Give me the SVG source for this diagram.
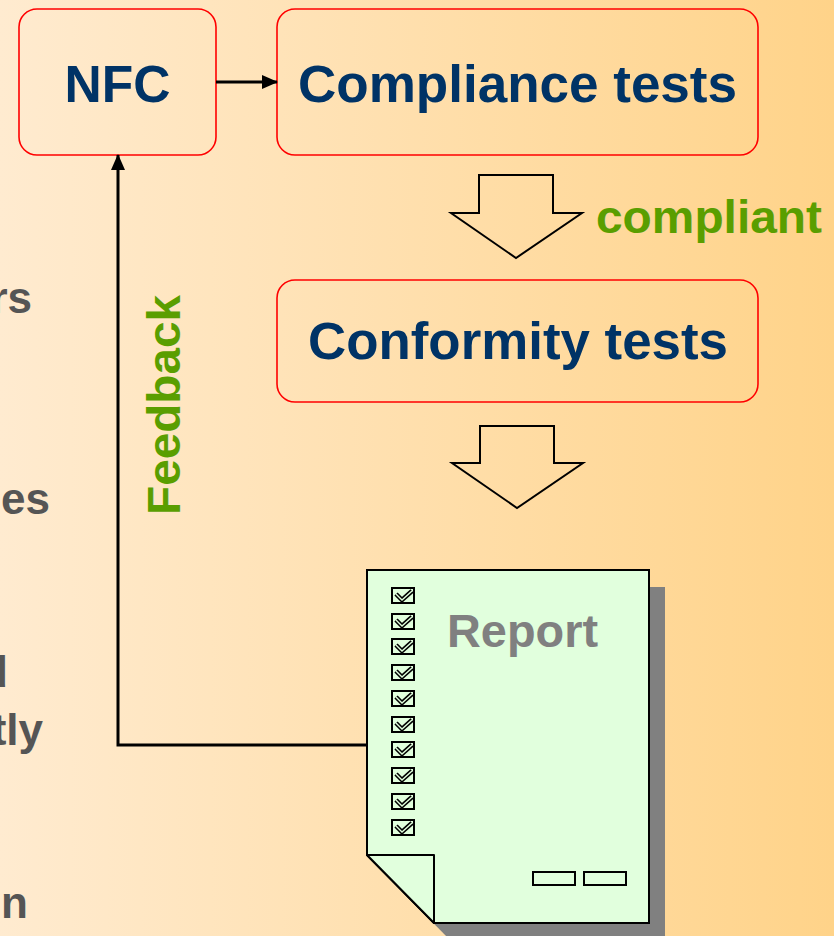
<svg xmlns="http://www.w3.org/2000/svg" width="834" height="936" viewBox="0 0 834 936">
<defs>
<linearGradient id="bg" x1="0" y1="0" x2="1" y2="0">
<stop offset="0" stop-color="#FFEBD0"/>
<stop offset="1" stop-color="#FFD389"/>
</linearGradient>
<marker id="ah" markerWidth="16" markerHeight="14" refX="15" refY="7" orient="auto" markerUnits="userSpaceOnUse" viewBox="0 0 16 14">
<path d="M0,0 L16,7 L0,14 z" fill="#000"/>
</marker>
<g id="chk">
<rect x="0" y="0" width="22" height="15" fill="none" stroke="#000" stroke-width="2"/>
<path d="M4,6 L10,12 L20,3" fill="none" stroke="#000" stroke-width="4.5" stroke-linejoin="miter"/>
<path d="M4,6 L10,12 L20,3" fill="none" stroke="#E1FFDD" stroke-width="1.4"/>
</g>
</defs>
<style>
.box{fill:none;stroke:#FF0000;stroke-width:1.6}
.nav{font-family:"Liberation Sans",Arial,sans-serif;font-weight:bold;fill:#003366;font-size:51px}
.grn{font-family:"Liberation Sans",Arial,sans-serif;font-weight:bold;fill:#5A9E00;font-size:46px}
.gry{font-family:"Liberation Sans",Arial,sans-serif;font-weight:bold;fill:#555555;font-size:44px}
.blk{fill:none;stroke:#000;stroke-width:2}
</style>
<rect x="0" y="0" width="834" height="936" fill="url(#bg)"/>

<g id="background-text">
<text class="gry" x="32" y="313" text-anchor="end">rs</text>
<text class="gry" x="50" y="514" text-anchor="end">es</text>
<text class="gry" x="8" y="687" text-anchor="end">d</text>
<text class="gry" x="43" y="745" text-anchor="end">tly</text>
<text class="gry" x="28" y="918" text-anchor="end">n</text>
</g>

<g id="nfc">
<rect class="box" x="19" y="9" width="197" height="146" rx="18"/>
<text class="nav" x="117.5" y="102" text-anchor="middle" textLength="106" lengthAdjust="spacingAndGlyphs">NFC</text>
</g>

<g id="compliance">
<rect class="box" x="277" y="9" width="481" height="146" rx="18"/>
<text class="nav" x="517.5" y="102" text-anchor="middle" textLength="439" lengthAdjust="spacingAndGlyphs">Compliance tests</text>
</g>

<g id="conformity">
<rect class="box" x="277" y="280" width="481" height="122" rx="18"/>
<text class="nav" x="518" y="359" text-anchor="middle" textLength="420" lengthAdjust="spacingAndGlyphs">Conformity tests</text>
</g>

<g id="arrow-compliant">
<path class="blk" d="M479,175 L553,175 L553,213 L582,213 L516,258 L451,213 L479,213 Z"/>
<text class="grn" x="596" y="233" textLength="226" lengthAdjust="spacingAndGlyphs">compliant</text>
</g>

<g id="arrow-report">
<path class="blk" d="M480,426 L554,426 L554,463 L583,463 L517,508 L452,463 L480,463 Z"/>
</g>

<g id="report">
<path d="M383,587 L665,587 L665,940 L450,940 L383,872 Z" fill="#808080"/>
<path d="M367,570 L649,570 L649,923 L434,923 L367,855 Z" fill="#E1FFDD" stroke="#000" stroke-width="2"/>
<path d="M367,855 L434,855 L434,923 Z" fill="#E1FFDD" stroke="#000" stroke-width="2" stroke-linejoin="round"/>
<use href="#chk" x="392" y="588"/>
<use href="#chk" x="392" y="614"/>
<use href="#chk" x="392" y="639"/>
<use href="#chk" x="392" y="665"/>
<use href="#chk" x="392" y="691"/>
<use href="#chk" x="392" y="717"/>
<use href="#chk" x="392" y="742"/>
<use href="#chk" x="392" y="768"/>
<use href="#chk" x="392" y="794"/>
<use href="#chk" x="392" y="820"/>
<rect x="533" y="872" width="42" height="13" fill="none" stroke="#000" stroke-width="2"/>
<rect x="584" y="872" width="42" height="13" fill="none" stroke="#000" stroke-width="2"/>
<text x="447" y="647" font-family="Liberation Sans, Arial, sans-serif" font-weight="bold" font-size="46" fill="#808080" textLength="151" lengthAdjust="spacingAndGlyphs">Report</text>
</g>

<g id="connectors">
<line x1="216" y1="82" x2="277" y2="82" stroke="#000" stroke-width="3" marker-end="url(#ah)"/>
<polyline points="367,745 118,745 118,155" fill="none" stroke="#000" stroke-width="3" marker-end="url(#ah)"/>
<text class="grn" transform="translate(180,405) rotate(-90)" x="0" y="0" text-anchor="middle" textLength="220" lengthAdjust="spacingAndGlyphs">Feedback</text>
</g>
</svg>
